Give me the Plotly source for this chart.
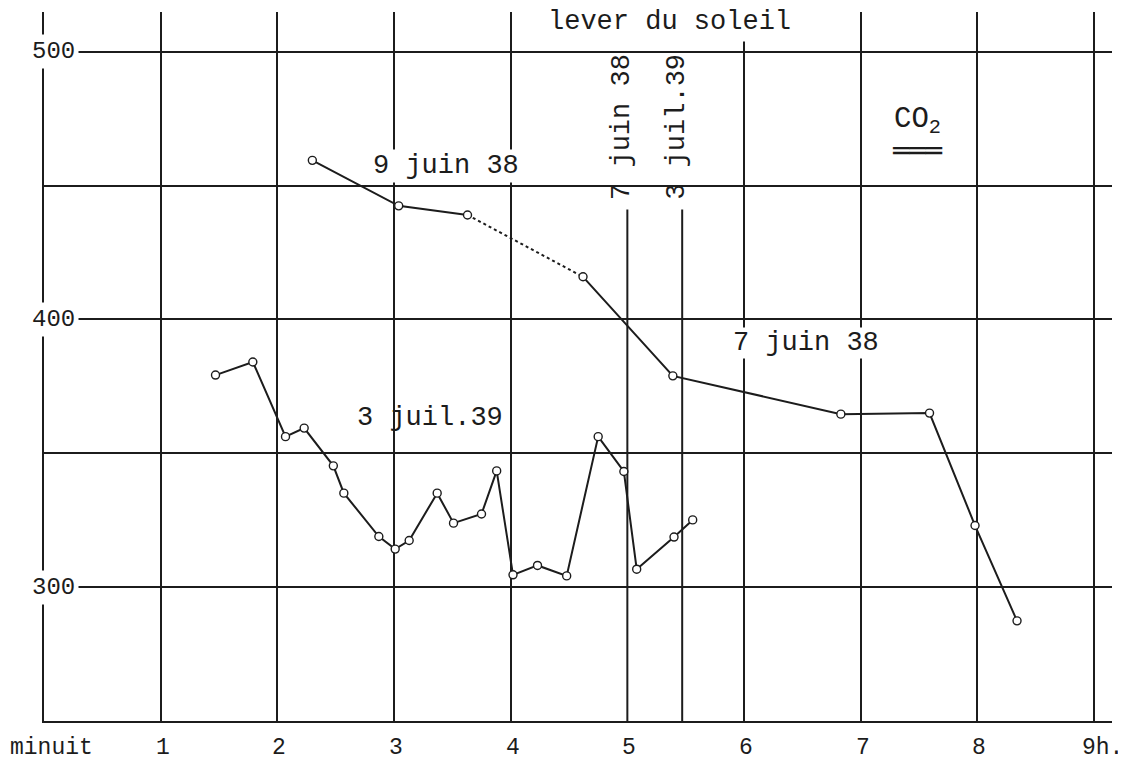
import plotly.graph_objects as go

# ---- data (hours after midnight, CO2 values) ----
hours = [0, 1, 2, 3, 4, 5, 6, 7, 8, 9]
hour_labels = ["minuit", "1", "2", "3", "4", "5", "6", "7", "8", "9h."]
grid_hours = [0, 1, 2, 3, 4, 6, 7, 8, 9]
y_levels = [300, 350, 400, 450, 500]
y_labels = {300: "300", 400: "400", 500: "500"}

juin9_h = [2.30, 3.04, 3.63]
juin9_v = [459.4, 442.4, 439.0]

juin7_h = [4.62, 5.39, 6.83, 7.59, 7.98, 8.34]
juin7_v = [415.9, 378.9, 364.6, 365.0, 323.0, 287.4]

juil3_h = [1.47, 1.79, 2.07, 2.23, 2.48, 2.57, 2.87, 3.01, 3.13, 3.37, 3.51,
           3.75, 3.88, 4.02, 4.23, 4.48, 4.75, 4.97, 5.08, 5.40, 5.56]
juil3_v = [379.2, 384.1, 356.2, 359.4, 345.3, 335.1, 318.9, 314.2, 317.4, 335.1, 323.9,
           327.3, 343.4, 304.6, 308.1, 304.2, 356.2, 343.2, 306.7, 318.7, 325.1]

sunrise_names = ["7 juin 38", "3 juil.39"]
sunrise_h = [5.00, 5.47]
sunrise_top = 441.0

Y_MIN, Y_MAX = 250, 514.8
X_MIN, X_MAX = 0, 9.154

INK = "#1c1c1c"
FONT = "Liberation Mono, Courier New, monospace"

fig = go.Figure()

marker = dict(symbol="circle", size=8, color="white", line=dict(color=INK, width=1.4))

# sunrise vertical lines
for h in sunrise_h:
    fig.add_trace(go.Scatter(x=[h, h], y=[sunrise_top, Y_MIN], mode="lines",
                             line=dict(color=INK, width=2), hoverinfo="skip", showlegend=False))

# dotted connection between 9 juin and 7 juin
fig.add_trace(go.Scatter(x=[juin9_h[-1], juin7_h[0]], y=[juin9_v[-1], juin7_v[0]], mode="lines",
                         line=dict(color=INK, width=2, dash="dot"), showlegend=False))

for hx, vy, nm in [(juin9_h, juin9_v, "9 juin 38"), (juin7_h, juin7_v, "7 juin 38"),
                   (juil3_h, juil3_v, "3 juil.39")]:
    fig.add_trace(go.Scatter(x=hx, y=vy, mode="lines+markers", name=nm,
                             line=dict(color=INK, width=2), marker=marker, showlegend=False))

# invisible trace on xaxis2 to enable grid overlay
fig.add_trace(go.Scatter(x=[X_MIN], y=[Y_MIN], xaxis="x2", mode="markers",
                         marker=dict(opacity=0), hoverinfo="skip", showlegend=False))

ann = []
# x-axis hour labels
for h, t in zip(hours, hour_labels):
    a = dict(x=h, y=Y_MIN, xref="x", yref="y", text=t, showarrow=False, yanchor="middle",
             yshift=-27, font=dict(size=23, color=INK, family=FONT))
    if t == "minuit":
        a.update(xanchor="left", xshift=-36)
    elif t.endswith("h."):
        a.update(xanchor="left", xshift=-14)
    else:
        a.update(xanchor="center", xshift=2)
    ann.append(a)

# y-axis labels
for v, t in y_labels.items():
    ann.append(dict(x=0, y=v, xref="x", yref="y", text=t, showarrow=False, xanchor="center",
                    xshift=9, bgcolor="white", borderpad=3, font=dict(size=24, color=INK, family=FONT)))

AF = dict(size=27, color=INK, family=FONT)
ann.append(dict(x=5.36, y=511.2, text="lever du soleil", showarrow=False, bgcolor="white",
                borderpad=4, font=AF))
ann.append(dict(x=3.445, y=457.3, text="9 juin 38", showarrow=False, bgcolor="white",
                borderpad=1, font=AF))
ann.append(dict(x=3.31, y=363.1, text="3 juil.39", showarrow=False, font=AF))
ann.append(dict(x=6.53, y=391.2, text="7 juin 38", showarrow=False, bgcolor="white",
                borderpad=0, font=AF))
for nm, h in zip(sunrise_names, sunrise_h):
    ann.append(dict(x=h, y=472.0, text=nm, textangle=-90, showarrow=False, xshift=-6, font=AF))
ann.append(dict(x=7.49, y=474.0, text="CO<sub>2</sub>", showarrow=False,
                font=dict(size=29, color=INK, family=FONT)))
ann.append(dict(x=7.49, y=463.0, text="═══", showarrow=False,
                font=dict(size=27, color=INK, family="DejaVu Sans Mono")))

fig.update_layout(
    width=1118, height=759,
    margin=dict(l=36, r=14, t=4, b=46, autoexpand=False),
    paper_bgcolor="white", plot_bgcolor="white",
    font=dict(family=FONT, color=INK),
    xaxis=dict(range=[X_MIN, X_MAX], tickvals=hours, showticklabels=False, showgrid=False,
               zeroline=False, showline=True, linecolor=INK, linewidth=2, ticks="",
               automargin=False),
    xaxis2=dict(range=[X_MIN, X_MAX], overlaying="x", tickvals=grid_hours, showticklabels=False,
                showgrid=True, gridcolor=INK, gridwidth=2, zeroline=False, showline=False,
                automargin=False),
    yaxis=dict(range=[Y_MIN, Y_MAX], tickvals=y_levels, showticklabels=False, showgrid=True,
               gridcolor=INK, gridwidth=2, zeroline=False, showline=True, linecolor=INK,
               linewidth=2, ticks="", automargin=False),
    annotations=ann,
)

fig.write_html("out.html")
